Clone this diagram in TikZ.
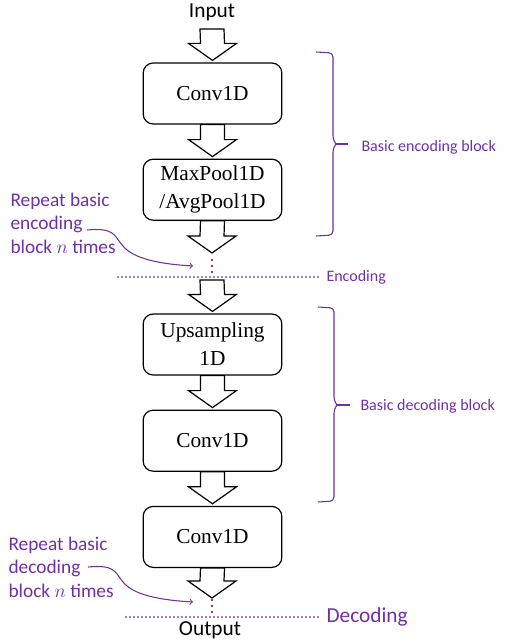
\documentclass[tikz,border=0pt]{standalone}
\usepackage{fontspec}
\setmainfont{Liberation Serif}
\newfontfamily\calibfont{Carlito}
\usetikzlibrary{positioning,calc}
\definecolor{notepurple}{RGB}{112,48,160}
\definecolor{linepurple}{RGB}{165,125,210}

% hollow block arrow from #1 down to #2
\newcommand{\hollowarrow}[2]{%
  \path (#1) coordinate (ha) (#2) ++(0,-2) coordinate (hb);
  \draw[hollow] ($(ha)+(-12,0)$) -- ($(hb)+(-12,-17)$) -- ($(hb)+(-24,-17)$) -- (hb)
    -- ($(hb)+(24,-17)$) -- ($(hb)+(12,-17)$) -- ($(ha)+(12,0)$) -- cycle;}

\begin{document}
\begin{tikzpicture}[x=0.75pt,y=-0.75pt,thick,node distance=25.5pt,
  box/.style={draw,rounded corners=7.5pt,minimum width=104pt,minimum height=45.75pt,
    align=center,line width=0.9pt,font=\fontsize{16}{21}\selectfont},
  hollow/.style={draw,fill=white,line width=0.9pt,line join=miter},
  plain/.style={font=\calibfont\fontsize{16}{19}\selectfont,inner sep=0pt},
  note/.style={text=notepurple,align=left,inner sep=0pt,
    font=\calibfont\fontsize{14.5}{17.6}\selectfont},
  tag/.style={text=notepurple,inner ysep=0pt,inner xsep=5.25pt,anchor=west,
    font=\calibfont\fontsize{12}{14}\selectfont},
  bracket/.style={draw=notepurple,line width=0.8pt,rounded corners=3pt},
  sep/.style={draw=linepurple,line width=1pt,dash pattern=on 1.5pt off 1.5pt},
  curly/.style={draw=notepurple,line width=0.8pt,->}]
\useasboundingbox (0,0) rectangle (505,642);

% main column
\node[plain] (input) at (212,12) {Input};
\node[box] (conv1) at (212.5,93.5) {Conv1D};
\node[box] (pool) [below=of conv1] {MaxPool1D\\/AvgPool1D};
\node[box] (up) at (212.5,344.5) {Upsampling\\1D};
\node[box] (conv2) [below=of up] {Conv1D};
\node[box] (conv3) [below=of conv2] {Conv1D};
\node[plain] (output) at (210,630) {Output};

\coordinate (intop) at (212,29);
\coordinate (encgap) at (212,255);
\coordinate (dectop) at (212,280);
\coordinate (decgap) at (212,600);

\hollowarrow{intop}{conv1.north}
\hollowarrow{conv1.south}{pool.north}
\hollowarrow{pool.south}{encgap}
\hollowarrow{dectop}{up.north}
\hollowarrow{up.south}{conv2.north}
\hollowarrow{conv2.south}{conv3.north}
\hollowarrow{conv3.south}{decgap}

% repeat dots
\foreach \y in {260,266,272} \fill[notepurple] (212,\y) circle (1.1pt);
\foreach \y in {600,606,612} \fill[notepurple] (212,\y) circle (1.1pt);

% separators
\node[tag] (enclabel) at (319,277) {Encoding};
\node[tag,font=\calibfont\fontsize{16}{19}\selectfont] (declabel) at (319,617) {Decoding};
\path[sep] (117,277) -- (enclabel.west);
\path[sep] (125,617) -- (declabel.west);

% braces
\draw[bracket] (316,52) -- (333,53) -- (333,140) -- (336,144);
\draw[bracket] (336,144) -- (333,148) -- (333,235) -- (316,236);
\draw[notepurple,line width=0.8pt] (336,144) -- (348,144);
\node[tag] (encblock) at (354,147) {Basic encoding block};
\draw[bracket] (318,307) -- (334,308) -- (334,401) -- (337,405);
\draw[bracket] (337,405) -- (334,409) -- (334,501) -- (318,502);
\draw[notepurple,line width=0.8pt] (337,405) -- (350,405);
\node[tag] (decblock) at (353,406) {Basic decoding block};

% repeat notes
\node[note,anchor=west] (encnote) at (10,223) {Repeat basic\\encoding\\block $n$ times};
\node[note,anchor=west] (decnote) at (8,567) {Repeat basic\\decoding\\block $n$ times};
\coordinate (encfrom) at (87,230);
\coordinate (encto) at (193,266);
\coordinate (decfrom) at (88,567);
\coordinate (decto) at (193,602);
\path[curly] (encfrom) .. controls +(53,-5) and +(-103,-6) .. (encto);
\path[curly] (decfrom) .. controls +(53,-5) and +(-103,-6) .. (decto);
\end{tikzpicture}
\end{document}
